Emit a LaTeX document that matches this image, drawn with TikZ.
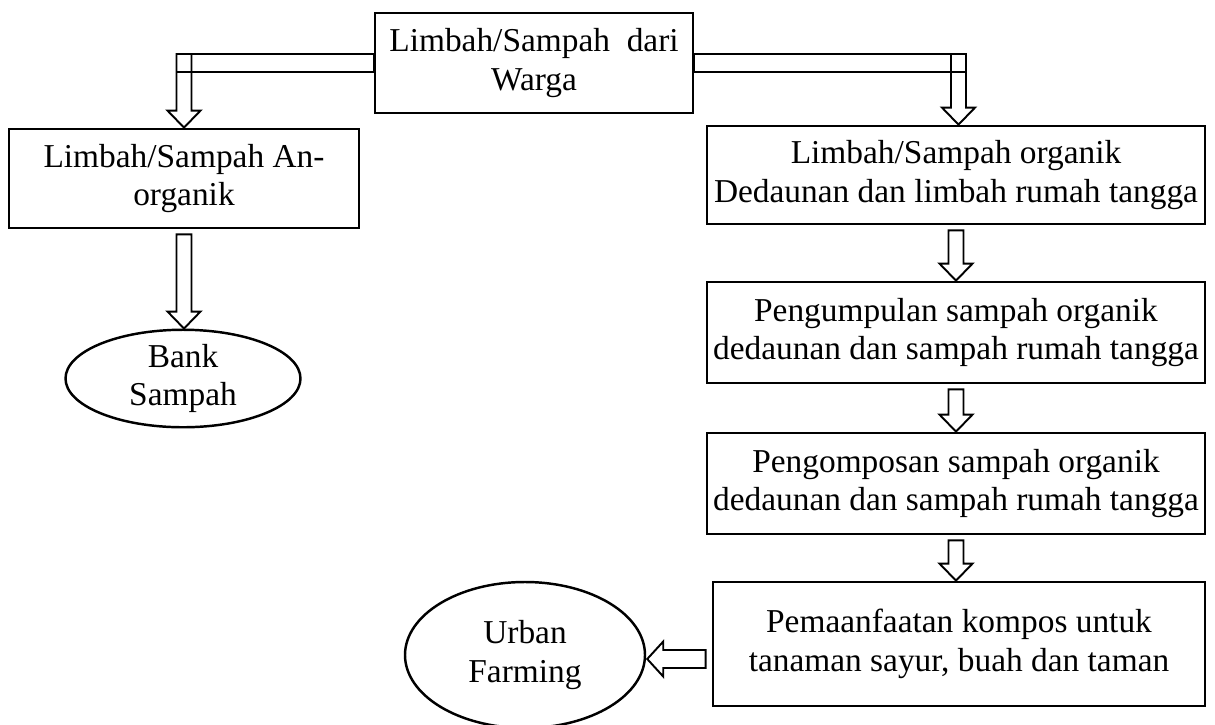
\documentclass[tikz,border=0pt]{standalone}
\usepackage{fontspec}
\setmainfont{Liberation Serif}
\usetikzlibrary{calc,positioning,shapes.geometric}

% hollow block arrows: #1 = start of the shaft, #2 = node anchor hit by the tip
\newcommand{\hollowdown}[2]{%
  \coordinate (hs) at (#1); \coordinate (ht) at (hs |- #2);
  \draw[hollow] ($(hs)+(-0.15,0)$) -- ($(ht)+(-0.15,0.34)$) -- ($(ht)+(-0.33,0.34)$) -- (ht)
    -- ($(ht)+(0.33,0.34)$) -- ($(ht)+(0.15,0.34)$) -- ($(hs)+(0.15,0)$) -- cycle;}
\newcommand{\hollowleft}[2]{%
  \coordinate (hs) at (#1); \coordinate (ht) at (hs -| #2);
  \draw[hollow] ($(hs)+(0,0.18)$) -- ($(ht)+(0.34,0.18)$) -- ($(ht)+(0.34,0.35)$) -- ($(ht)+(0.02,0)$)
    -- ($(ht)+(0.34,-0.35)$) -- ($(ht)+(0.34,-0.18)$) -- ($(hs)+(0,-0.18)$) -- cycle;}

\begin{document}
\begin{tikzpicture}[font=\fontsize{19}{22}\selectfont]
	\tikzstyle{box}=[draw,line width=1.6pt,align=center,inner sep=2pt]
	\tikzstyle{blob}=[draw,ellipse,line width=1.4pt,align=center,inner sep=0pt]
	\tikzstyle{hollow}=[line width=1.1pt,line join=miter]

	\useasboundingbox (0,0) rectangle (24.3,-14.48);

	\node[box,minimum width=6.36cm,minimum height=2cm] (W) at (10.68,-1.26) {Limbah/Sampah\ \ dari\\Warga};
	\node[box,minimum width=7cm,minimum height=1.98cm] (A) at (3.68,-3.57) {Limbah/Sampah An-\\organik};
	\node[blob,minimum width=4.7cm,minimum height=1.74cm] (B) at (3.66,-7.57) {Bank\\Sampah};

	\node[box,minimum width=9.96cm,minimum height=1.96cm] (O) at (19.12,-3.5) {Limbah/Sampah organik\\Dedaunan dan limbah rumah tangga};
	\node[box,minimum width=9.96cm,minimum height=2.02cm] (P) at (19.12,-6.65) {Pengumpulan sampah organik\\dedaunan dan sampah rumah tangga};
	\node[box,minimum width=9.96cm,minimum height=2.02cm] (K) at (19.12,-9.67) {Pengomposan sampah organik\\dedaunan dan sampah rumah tangga};
	\node[box,minimum width=9.84cm,minimum height=2.48cm] (M) at (19.18,-12.88) {Pemaanfaatan kompos untuk\\tanaman sayur, buah dan taman};
	\node[blob,minimum width=4.8cm,minimum height=2.92cm] (U) at (10.5,-13.1) {Urban\\Farming};

	% branches from the top box
	\draw[hollow] ($(W.west)+(0,-0.18)$) rectangle ($(A.north |- W.west)+(-0.15,0.18)$);
	\hollowdown{$(A.north |- W.west)+(0,0.18)$}{A.north}
	\draw[hollow] ($(W.east)+(0,-0.18)$) rectangle ($(O.north |- W.east)+(0.2,0.18)$);
	\hollowdown{$(O.north |- W.east)+(0.05,0.18)$}{O.north}

	% chain
	\hollowdown{$(A.south)+(0,-0.1)$}{B.north}
	\hollowdown{$(O.south)+(0,-0.1)$}{P.north}
	\hollowdown{$(P.south)+(0,-0.1)$}{K.north}
	\hollowdown{$(K.south)+(0,-0.1)$}{M.north}
	\hollowleft{$(M.west)+(-0.12,-0.3)$}{U.east}
\end{tikzpicture}
\end{document}
